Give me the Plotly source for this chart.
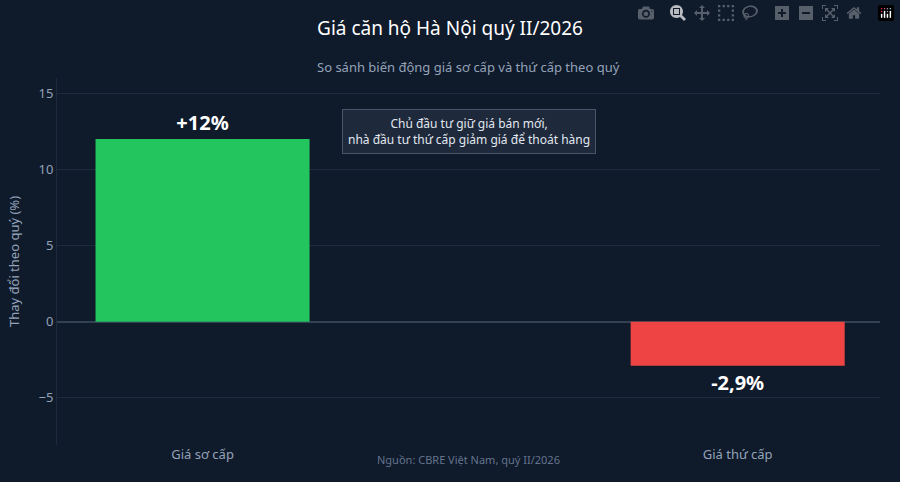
import plotly.graph_objects as go

categories = ["Giá sơ cấp", "Giá thứ cấp"]
values = [12, -2.9]
labels = ["<b>+12%</b>", "<b>-2,9%</b>"]
colors = ["#22c55e", "#ef4444"]

fig = go.Figure(go.Bar(
    x=[0, 1], y=values, marker_color=colors, marker_line_width=0, width=0.40,
    text=labels, textposition="outside", cliponaxis=False,
    textfont=dict(size=20, color="white", family="Noto Sans"),
))
fig.update_layout(
    width=900, height=482,
    paper_bgcolor="#0f1a2b", plot_bgcolor="#0f1a2b",
    font=dict(family="Noto Sans", color="#94a3b8", size=13),
    margin=dict(l=57, r=20, t=78, b=37),
    title=dict(text="Giá căn hộ Hà Nội quý II/2026", x=0.5, xanchor="center", y=0.955,
               font=dict(size=19, color="white")),
    showlegend=False,
    xaxis=dict(showgrid=False, range=[-0.272, 1.266], tickmode="array", tickvals=[0, 1],
               ticktext=categories, tickfont=dict(size=13, color="#94a3b8"), ticks=""),
    yaxis=dict(range=[-8.1, 16], dtick=5, gridcolor="#1e2a3d", zeroline=True,
               zerolinecolor="#334155", zerolinewidth=1.5,
               title=dict(text="Thay đổi theo quý (%)", font=dict(size=13, color="#94a3b8")),
               tickfont=dict(size=13, color="#94a3b8"), showline=True, linecolor="#1e2a3d"),
    annotations=[
        dict(text="So sánh biến động giá sơ cấp và thứ cấp theo quý", x=0.5, y=1.06, xref="paper",
             yref="paper", showarrow=False, font=dict(size=13, color="#94a3b8")),
        dict(text="Chủ đầu tư giữ giá bán mới,<br>nhà đầu tư thứ cấp giảm giá để thoát hàng",
             x=0.5, y=12.5, xref="paper", yref="y", showarrow=False,
             font=dict(size=12, color="#e2e8f0"), bgcolor="#1e293b", bordercolor="#475569",
             borderwidth=1, borderpad=5, align="center"),
        dict(text="Nguồn: CBRE Việt Nam, quý II/2026", x=0.5, y=-0.065, xref="paper", yref="paper",
             showarrow=False, font=dict(size=11, color="#64748b")),
    ],
)
fig.write_html("out.html", post_script="document.body.style.margin='0';")
